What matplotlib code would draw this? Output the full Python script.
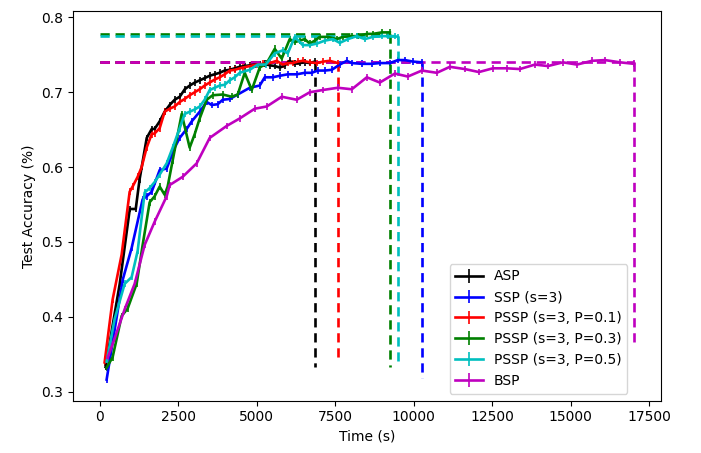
import numpy as np
import matplotlib
matplotlib.use("Agg")
import matplotlib.pyplot as plt

# values (time in s, accuracy)
asp_t = [190, 640, 960, 1150, 1270, 1500, 1660, 1750, 1910, 2070, 2230, 2390, 2550, 2710,
         2870, 3030, 3190, 3350, 3500, 3660, 3820, 3980, 4140, 4300, 4460, 4620, 4780, 4940,
         5100, 5260, 5420, 5580, 5740, 5900, 6050, 6210, 6370, 6530, 6690, 6850]
asp_acc = [0.333, 0.444, 0.544, 0.544, 0.583, 0.639, 0.651, 0.651, 0.661, 0.674, 0.683, 0.690,
           0.694, 0.704, 0.709, 0.713, 0.716, 0.719, 0.722, 0.724, 0.726, 0.729, 0.730, 0.732,
           0.734, 0.735, 0.736, 0.737, 0.737, 0.738, 0.736, 0.735, 0.733, 0.736, 0.742, 0.738,
           0.739, 0.740, 0.739, 0.741]

ssp_t = [223, 733, 1020, 1370, 1497, 1657, 1912, 2135, 2390, 2549, 2772, 2931, 3186, 3409,
         3568, 3760, 3919, 4142, 4397, 4779, 5098, 5257, 5512, 5735, 5990, 6277, 6531, 6754,
         6946, 7169, 7392, 7646, 7869, 8029, 8348, 8666, 8921, 9240, 9494, 9717, 9972, 10259]
ssp_acc = [0.316, 0.449, 0.492, 0.557, 0.561, 0.567, 0.596, 0.598, 0.626, 0.639, 0.651, 0.661,
           0.674, 0.687, 0.683, 0.684, 0.690, 0.691, 0.697, 0.706, 0.709, 0.720, 0.720, 0.722,
           0.724, 0.724, 0.726, 0.726, 0.729, 0.729, 0.730, 0.737, 0.742, 0.739, 0.738, 0.738,
           0.739, 0.739, 0.743, 0.743, 0.741, 0.740]

p01_t = [159, 414, 701, 956, 1051, 1211, 1338, 1497, 1657, 1752, 1912, 2071, 2230, 2390,
         2549, 2708, 2867, 3027, 3186, 3345, 3505, 3664, 3823, 3983, 4142, 4300, 4556, 4780,
         5002, 5210, 5416, 5639, 5830, 6000, 6149, 6310, 6468, 6690, 6914, 7120, 7328, 7583]
p01_acc = [0.339, 0.423, 0.483, 0.567, 0.574, 0.587, 0.600, 0.626, 0.644, 0.645, 0.652, 0.674,
           0.678, 0.681, 0.687, 0.691, 0.696, 0.700, 0.704, 0.709, 0.713, 0.717, 0.720, 0.724,
           0.729, 0.730, 0.733, 0.735, 0.737, 0.738, 0.739, 0.742, 0.737, 0.739, 0.739, 0.741,
           0.742, 0.740, 0.739, 0.741, 0.742, 0.739]

p03_t = [223, 414, 701, 892, 1179, 1370, 1593, 1752, 1912, 2071, 2166, 2326, 2613, 2867,
         3027, 3186, 3409, 3600, 3919, 4206, 4397, 4620, 4843, 5098, 5321, 5576, 5798, 6053,
         6213, 6372, 6531, 6690, 6850, 7009, 7264, 7551, 7742, 8029, 8220, 8507, 8698, 8985,
         9240]
p03_acc = [0.332, 0.346, 0.401, 0.411, 0.444, 0.496, 0.553, 0.561, 0.574, 0.563, 0.574, 0.609,
           0.671, 0.626, 0.644, 0.665, 0.690, 0.696, 0.697, 0.694, 0.697, 0.726, 0.703, 0.733,
           0.739, 0.758, 0.745, 0.771, 0.767, 0.769, 0.771, 0.765, 0.769, 0.774, 0.774, 0.771,
           0.774, 0.775, 0.775, 0.778, 0.778, 0.780, 0.780]

p05_t = [223, 478, 797, 1020, 1211, 1434, 1593, 1752, 1912, 2135, 2326, 2549, 2708, 2867,
         3027, 3186, 3345, 3505, 3664, 3823, 3983, 4142, 4301, 4461, 4779, 5034, 5289, 5576,
         5830, 5990, 6213, 6467, 6690, 6914, 7169, 7424, 7646, 7901, 8188, 8443, 8698, 8985,
         9176, 9400, 9494]
p05_acc = [0.340, 0.397, 0.444, 0.453, 0.488, 0.566, 0.572, 0.580, 0.590, 0.605, 0.626, 0.652,
           0.671, 0.674, 0.677, 0.681, 0.690, 0.703, 0.706, 0.709, 0.710, 0.716, 0.720, 0.726,
           0.730, 0.737, 0.737, 0.752, 0.756, 0.752, 0.774, 0.763, 0.763, 0.765, 0.769, 0.771,
           0.766, 0.771, 0.775, 0.771, 0.774, 0.775, 0.775, 0.775, 0.774]

bsp_t = [255, 478, 797, 1115, 1434, 1752, 2135, 2230, 2644, 3090, 3505, 4046, 4460, 4938,
         5321, 5798, 6276, 6690, 7105, 7583, 8029, 8507, 8921, 9399, 9813, 10259, 10737,
         11151, 11629, 12075, 12521, 12967, 13381, 13859, 14273, 14751, 15197, 15675, 16089,
         16567, 17013]
bsp_acc = [0.345, 0.371, 0.410, 0.444, 0.496, 0.527, 0.561, 0.576, 0.587, 0.605, 0.639, 0.655,
           0.665, 0.678, 0.681, 0.694, 0.690, 0.700, 0.703, 0.706, 0.704, 0.720, 0.713, 0.725,
           0.721, 0.729, 0.726, 0.734, 0.731, 0.727, 0.732, 0.732, 0.731, 0.737, 0.735, 0.740,
           0.737, 0.742, 0.743, 0.740, 0.738]

names = ["ASP", "SSP (s=3)", "PSSP (s=3, P=0.1)", "PSSP (s=3, P=0.3)",
         "PSSP (s=3, P=0.5)", "BSP"]
colors = ["k", "b", "r", "g", "c", "m"]
times = [asp_t, ssp_t, p01_t, p03_t, p05_t, bsp_t]
accs = [asp_acc, ssp_acc, p01_acc, p03_acc, p05_acc, bsp_acc]
# level of the dashed line and where the vertical drop ends
best_acc = [0.741, 0.741, 0.741, 0.778, 0.7757, 0.741]
drop_low = [0.333, 0.318, 0.339, 0.333, 0.341, 0.364]


def plot_all():
    fig = plt.figure(figsize=(7.01, 4.53), dpi=100)
    ax = fig.add_axes([0.104, 0.1155, 0.8385, 0.8595])
    for t, a, c, name, best, low in zip(times, accs, colors, names, best_acc, drop_low):
        ax.errorbar(t, a, yerr=0.0045, color=c, lw=1.9, elinewidth=1.2,
                    capsize=0, label=name)
        ax.plot([0, t[-1]], [best, best], "--", color=c, lw=1.9, dashes=(3.5, 2.2))
        ax.plot([t[-1], t[-1]], [best, low], "--", color=c, lw=1.9, dashes=(3.5, 2.2))

    ax.set_xlabel("Time (s)")
    ax.set_ylabel("Test Accuracy (%)")
    ax.set_yticks([0.3, 0.4, 0.5, 0.6, 0.7, 0.8])
    ax.set_xticks(np.arange(0, 17501, 2500))
    ax.legend(loc="lower right", bbox_to_anchor=(0.955, 0.0))
    fig.savefig("out.png", dpi=100)


if __name__ == '__main__':
    plot_all()
